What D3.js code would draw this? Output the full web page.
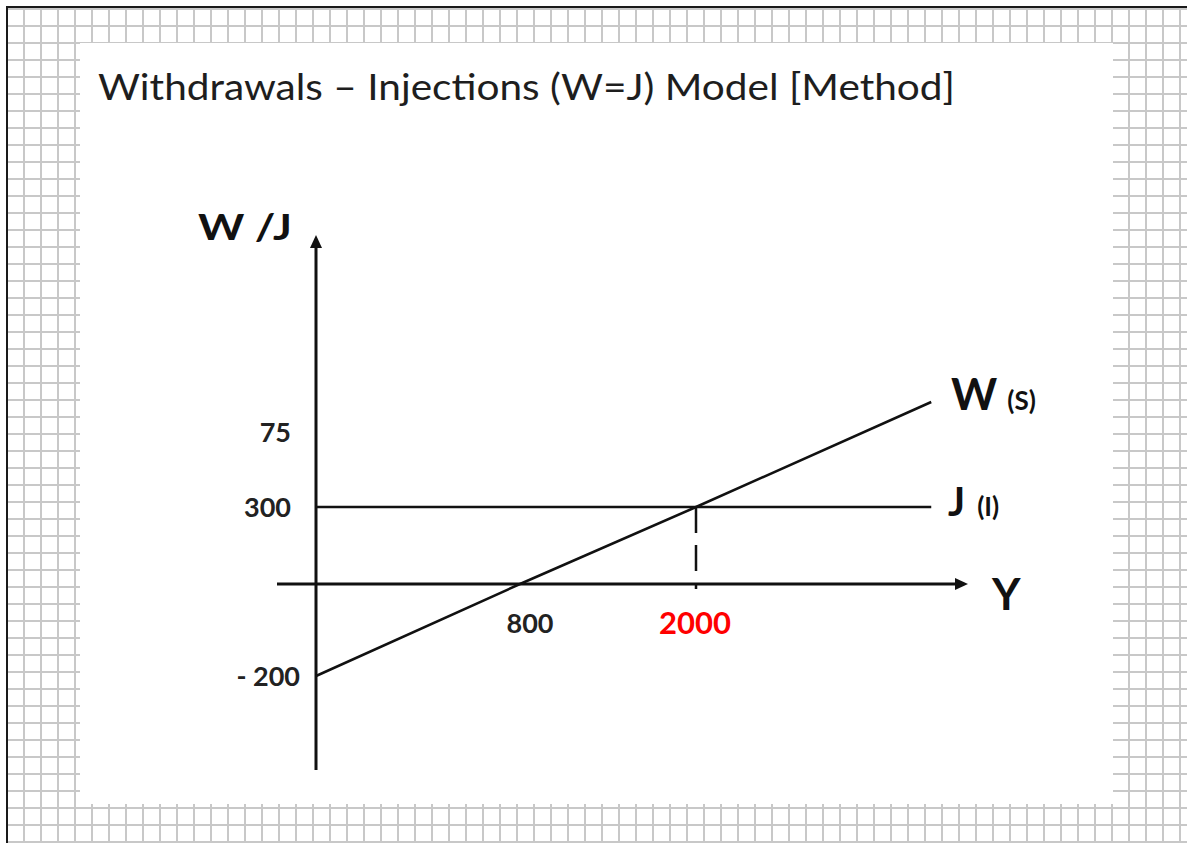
<!DOCTYPE html>
<html lang="en">
<head>
    <meta charset="UTF-8">
    <title>Withdrawals - Injections (W=J) Model</title>
    <script src="https://d3js.org/d3.v7.min.js"></script>
</head>
<style>
    body { margin: 0; background: #fff; }
    text { font-family: Lato, "Open Sans", sans-serif; }
</style>
<body>
    <div id="chart-container"></div>

    <script>
        // national income Y and the two schedules
        const incomeY = [0, 800, 2000, 3600];
        const withdrawals = [-200, 0, 300, 700];   // W (S) = -200 + 0.25Y
        const injections = [300, 300, 300, 300];   // J (I)

        const xTickValues = [800, 2000];
        const xTickLabels = ["800", "2000"];
        const yTickValues = [-200, 300, 586];
        const yTickLabels = ["- 200", "300", "75"];

        const containerWidth = 1187;
        const containerHeight = 843;

        const svg = d3.select("#chart-container")
            .append("svg")
            .attr("width", containerWidth)
            .attr("height", containerHeight);

        // squared paper background
        const cell = 17;
        svg.append("rect")
            .attr("width", containerWidth)
            .attr("height", containerHeight)
            .style("fill", "#fff");

        svg.selectAll(".vgrid")
            .data(d3.range(7, containerWidth + cell, cell))
            .enter()
            .append("line")
            .attr("class", "vgrid")
            .attr("x1", d => d).attr("x2", d => d)
            .attr("y1", 7).attr("y2", containerHeight)
            .style("stroke", "#c8c8c8")
            .style("stroke-width", 2);

        svg.selectAll(".hgrid")
            .data(d3.range(9, containerHeight + 1, cell))
            .enter()
            .append("line")
            .attr("class", "hgrid")
            .attr("y1", d => d).attr("y2", d => d)
            .attr("x1", 7).attr("x2", containerWidth)
            .style("stroke", "#c8c8c8")
            .style("stroke-width", 2);

        // dark frame on the top and left
        svg.append("path")
            .attr("d", `M7,${containerHeight} V7 H${containerWidth}`)
            .style("fill", "none")
            .style("stroke", "#1a1a1a")
            .style("stroke-width", 2);

        // the white slide
        svg.append("rect")
            .attr("x", 80).attr("y", 43)
            .attr("width", 1033).attr("height", 761)
            .style("fill", "#fff");

        svg.append("text")
            .attr("x", 98)
            .attr("y", 100)
            .attr("textLength", 857)
            .attr("lengthAdjust", "spacingAndGlyphs")
            .style("font-size", "37px")
            .style("fill", "#1e1e1e")
            .text("Withdrawals – Injections (W=J) Model [Method]");

        // schematic (piecewise) scales, the sketch is not drawn to scale
        const x = d3.scaleLinear()
            .domain([-150, 0, 800, 2000, 3850])
            .range([277, 316, 520, 696, 968]);

        const y = d3.scaleLinear()
            .domain([-400, -200, 0, 300, 700, 1340])
            .range([770, 676, 584, 507, 402, 235]);

        const xMin = -150, xMax = 3850, yMin = -400, yMax = 1340;
        const head = 13, half = 6;

        // axes with arrow heads
        svg.append("line")
            .attr("x1", x(xMin)).attr("x2", x(xMax) - head + 1)
            .attr("y1", y(0)).attr("y2", y(0))
            .style("stroke", "#111").style("stroke-width", 3);
        svg.append("path")
            .attr("d", `M${x(xMax)},${y(0)} L${x(xMax) - head},${y(0) - half} L${x(xMax) - head},${y(0) + half} Z`)
            .style("fill", "#111");

        svg.append("line")
            .attr("x1", x(0)).attr("x2", x(0))
            .attr("y1", y(yMin)).attr("y2", y(yMax) + head - 1)
            .style("stroke", "#111").style("stroke-width", 3);
        svg.append("path")
            .attr("d", `M${x(0)},${y(yMax)} L${x(0) - half},${y(yMax) + head} L${x(0) + half},${y(yMax) + head} Z`)
            .style("fill", "#111");

        const line = d3.line()
            .x(d => x(d[0]))
            .y(d => y(d[1]));

        svg.append("path")
            .datum(incomeY.map((v, i) => [v, injections[i]]))
            .attr("d", line)
            .style("fill", "none")
            .style("stroke", "#111")
            .style("stroke-width", 2.5);

        svg.append("path")
            .datum(incomeY.map((v, i) => [v, withdrawals[i]]))
            .attr("d", line)
            .style("fill", "none")
            .style("stroke", "#111")
            .style("stroke-width", 2.5);

        // dashed drop line from the equilibrium
        svg.append("line")
            .attr("x1", x(2000)).attr("x2", x(2000))
            .attr("y1", y(300)).attr("y2", y(0) + 5)
            .style("stroke", "#111")
            .style("stroke-width", 2.5)
            .style("stroke-dasharray", "26,12");

        // tick labels
        svg.selectAll(".ylab")
            .data(yTickValues)
            .enter()
            .append("text")
            .attr("class", "ylab")
            .attr("x", (d, i) => i === 0 ? 300 : 291)
            .attr("y", d => y(d) + 10)
            .attr("text-anchor", "end")
            .style("font-size", "27px")
            .style("font-weight", "bold")
            .style("fill", "#222")
            .text((d, i) => yTickLabels[i]);

        svg.selectAll(".xlab")
            .data(xTickValues)
            .enter()
            .append("text")
            .attr("class", "xlab")
            .attr("x", (d, i) => x(d) + (i === 0 ? 10 : -1))
            .attr("y", (d, i) => y(0) + (i === 0 ? 49 : 50))
            .attr("text-anchor", "middle")
            .style("font-size", (d, i) => i === 0 ? "27px" : "31px")
            .style("font-weight", "bold")
            .style("fill", (d, i) => i === 0 ? "#222" : "#ff0000")
            .text((d, i) => xTickLabels[i]);

        // axis and curve names
        svg.append("text")
            .attr("x", 198).attr("y", 240)
            .attr("textLength", 94)
            .attr("lengthAdjust", "spacingAndGlyphs")
            .style("font-size", "37px").style("font-weight", "bold")
            .style("fill", "#111")
            .text("W /J");

        svg.append("text")
            .attr("x", 992).attr("y", 610)
            .style("font-size", "44px").style("font-weight", "bold")
            .style("fill", "#111")
            .text("Y");

        const wLab = svg.append("text")
            .attr("x", 951).attr("y", 410)
            .style("font-weight", "bold").style("fill", "#111");
        wLab.append("tspan").style("font-size", "44px").text("W");
        wLab.append("tspan").attr("dx", 10).style("font-size", "26px").text("(S)");

        const jLab = svg.append("text")
            .attr("x", 948).attr("y", 516)
            .style("font-weight", "bold").style("fill", "#111");
        jLab.append("tspan").style("font-size", "40px").text("J");
        jLab.append("tspan").attr("dx", 12).style("font-size", "26px").text("(I)");
    </script>
</body>
</html>
